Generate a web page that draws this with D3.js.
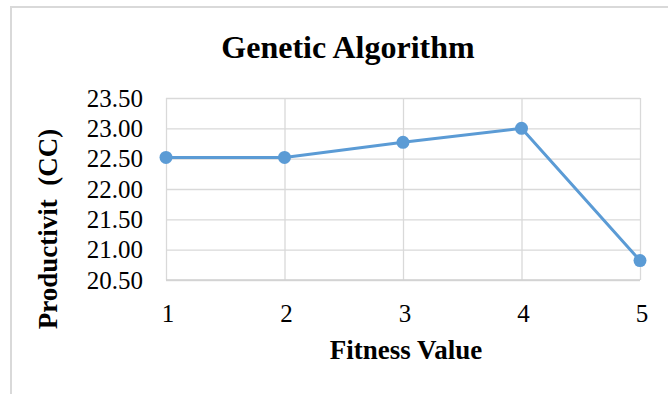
<!DOCTYPE html>
<html>
<head>
<meta charset="utf-8">
<script src="https://cdn.jsdelivr.net/npm/d3@7"></script>
<style>
  html, body { margin: 0; padding: 0; background: #fff; }
  svg { display: block; }
</style>
</head>
<body>
<svg id="chart" width="668" height="394"></svg>
<script>
const categories = ["1", "2", "3", "4", "5"];
const productivity = [22.52, 22.52, 22.77, 23.00, 20.82];
const yTicks = [20.5, 21.0, 21.5, 22.0, 22.5, 23.0, 23.5];
const titleText = "Genetic Algorithm";
const xTitle = "Fitness Value";
const yTitle = "Productivit  (CC)";

const svg = d3.select("#chart");
const W = 668, H = 394;
const plot = { left: 166, right: 640, top: 98, bottom: 280 };
const serif = "Liberation Serif";
const gridColor = "#d9d9d9";
const lineColor = "#5B9BD5";

// outer frame (only top and left visible)
svg.append("path")
  .attr("d", `M11,${H} L11,7 L${W},7`)
  .attr("fill", "none").attr("stroke", "#d9d9d9").attr("stroke-width", 2);

const x = d3.scalePoint().domain(categories).range([plot.left, plot.right]).padding(0);
const y = d3.scaleLinear().domain([20.5, 23.5]).range([plot.bottom, plot.top]);

// horizontal gridlines
svg.append("g")
  .attr("transform", `translate(${plot.left},0)`)
  .call(d3.axisLeft(y).tickValues(yTicks).tickSize(-(plot.right - plot.left)).tickFormat(""))
  .call(g => g.select(".domain").remove())
  .call(g => g.selectAll("line").attr("stroke", gridColor).attr("stroke-width", 1.3));

// vertical gridlines
svg.append("g")
  .attr("transform", `translate(0,${plot.bottom})`)
  .call(d3.axisBottom(x).tickSize(-(plot.bottom - plot.top)).tickFormat(""))
  .call(g => g.select(".domain").remove())
  .call(g => g.selectAll("line").attr("stroke", gridColor).attr("stroke-width", 1.3));

// bottom axis line
svg.append("line")
  .attr("x1", plot.left).attr("x2", plot.right)
  .attr("y1", plot.bottom).attr("y2", plot.bottom)
  .attr("stroke", "#d0d0d0").attr("stroke-width", 1.5);

// y tick labels
const fmt = d3.format(".2f");
svg.append("g").selectAll("text")
  .data(yTicks).join("text")
  .attr("x", plot.left - 23)
  .attr("y", d => y(d))
  .attr("dy", "0.34em")
  .attr("text-anchor", "end")
  .style("font-family", serif).style("font-size", "25px").style("fill", "#000")
  .text(d => fmt(d));

// x tick labels
svg.append("g").selectAll("text")
  .data(categories).join("text")
  .attr("x", d => x(d) + 2)
  .attr("y", plot.bottom + 42)
  .attr("text-anchor", "middle")
  .style("font-family", serif).style("font-size", "25px").style("fill", "#000")
  .text(d => d);

// line
const data = categories.map((c, i) => ({ c, v: productivity[i] }));
svg.append("path")
  .datum(data)
  .attr("fill", "none")
  .attr("stroke", lineColor)
  .attr("stroke-width", 3)
  .attr("stroke-linejoin", "round")
  .attr("d", d3.line().x(d => x(d.c)).y(d => y(d.v)));

svg.append("g").selectAll("circle")
  .data(data).join("circle")
  .attr("cx", d => x(d.c)).attr("cy", d => y(d.v))
  .attr("r", 6.5).attr("fill", lineColor);

// title
svg.append("text")
  .attr("x", 348).attr("y", 58)
  .attr("text-anchor", "middle")
  .style("font-family", serif).style("font-weight", "bold").style("font-size", "32px")
  .text(titleText);

// x title
svg.append("text")
  .attr("x", 406).attr("y", 359)
  .attr("text-anchor", "middle")
  .style("font-family", serif).style("font-weight", "bold").style("font-size", "27px")
  .text(xTitle);

// y title
svg.append("text")
  .attr("transform", "translate(57,229) rotate(-90)")
  .attr("text-anchor", "middle")
  .style("font-family", serif).style("font-weight", "bold").style("font-size", "27px")
  .style("white-space", "pre")
  .text(yTitle);
</script>
</body>
</html>
